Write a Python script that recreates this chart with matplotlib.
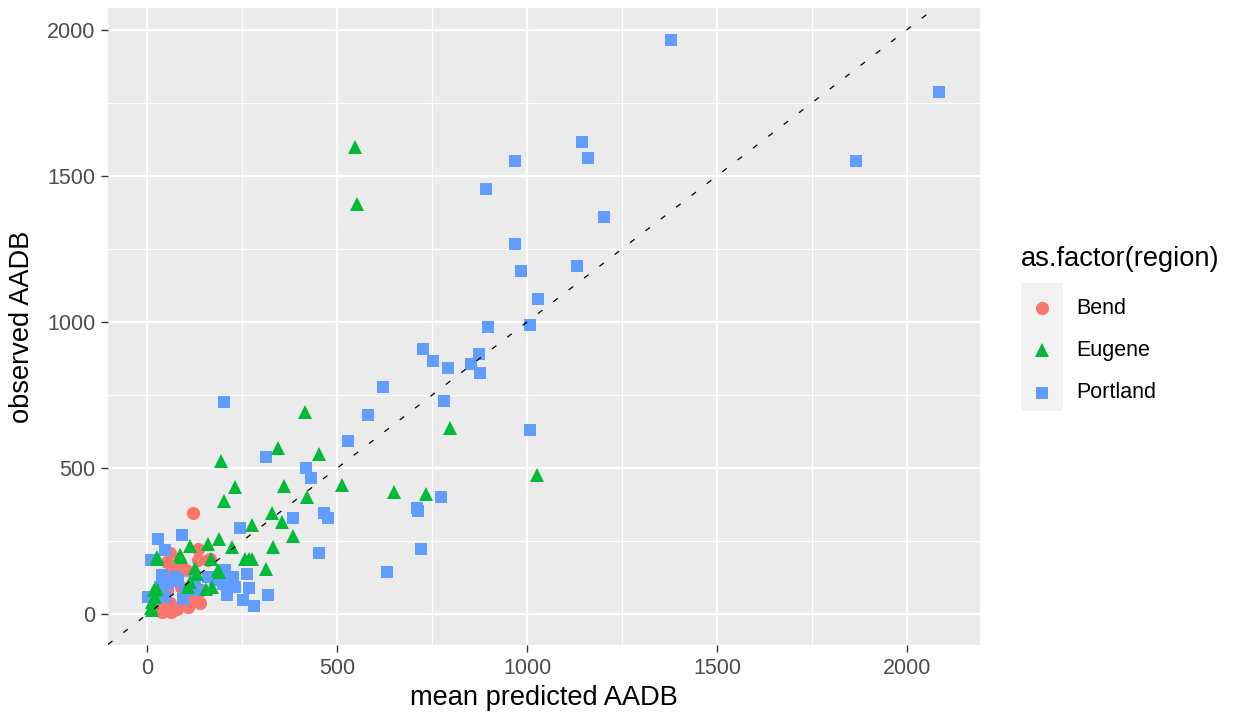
import numpy as np
import matplotlib.pyplot as plt
from matplotlib.ticker import MultipleLocator

plt.rcParams['font.family'] = ['Liberation Sans', 'DejaVu Sans']

regions = ['Bend', 'Eugene', 'Portland']
colors = {'Bend': '#F8766D', 'Eugene': '#00BA38', 'Portland': '#619CFF'}
markers = {'Bend': 'o', 'Eugene': '^', 'Portland': 's'}
msizes = {'Bend': 9.5, 'Eugene': 10.0, 'Portland': 9.0}

# mean predicted vs observed AADB per count site
bend_pred = [121, 135, 166, 161, 73, 103, 68, 51, 29, 20, 38, 77, 108, 125, 143, 90,
             86, 51, 134, 64, 139, 131, 61, 65, 34, 78, 100, 60]
bend_obs = [345, 225, 190, 185, 151, 151, 116, 82, 48, 25, 8, 19, 25, 48, 82, 94,
            162, 179, 185, 8, 37, 71, 208, 139, 14, 19, 60, 40]

eugene_pred = [548, 553, 416, 344, 453, 194, 230, 359, 514, 201, 420, 328, 354, 276,
               383, 332, 223, 258, 275, 313, 189, 161, 113, 167, 126, 796, 1025, 651,
               734, 89, 27, 187, 112, 156, 27, 20, 11, 130, 108, 269, 17, 12, 12, 87,
               25, 188, 170]
eugene_obs = [1600, 1404, 691, 570, 550, 524, 436, 438, 444, 387, 402, 345, 316, 305,
              268, 230, 230, 190, 190, 156, 259, 240, 234, 190, 157, 636, 476, 419,
              413, 196, 196, 151, 111, 88, 88, 59, 20, 139, 94, 190, 82, 42, 14, 202,
              190, 145, 94]

portland_pred = [1379, 2085, 1866, 1144, 1160, 968, 891, 1203, 967, 983, 1131, 1030,
                 897, 1008, 725, 752, 793, 852, 874, 876, 620, 580, 780, 1008, 774,
                 710, 712, 721, 631, 201, 528, 313, 418, 431, 383, 466, 477, 245, 453,
                 318, 91, 264, 269, 253, 280, 29, 48, 11, 38, 73, 55, 82, 99, 125, 161,
                 178, 204, 213, 226, 200, 231, 209, 3, 46, 95, 130, 33]
portland_obs = [1963, 1785, 1549, 1614, 1560, 1549, 1454, 1358, 1266, 1176, 1193, 1079,
                982, 991, 907, 866, 843, 855, 890, 825, 776, 681, 729, 632, 400,
                365, 355, 224, 145, 727, 593, 539, 499, 465, 330, 347, 331, 296, 208,
                65, 270, 137, 91, 48, 27, 256, 219, 187, 134, 128, 105, 116, 82, 122, 128,
                116, 151, 116, 128, 105, 94, 65, 59, 59, 54, 82, 94]

data = {
    'Bend': (bend_pred, bend_obs),
    'Eugene': (eugene_pred, eugene_obs),
    'Portland': (portland_pred, portland_obs),
}

W, H = 1235, 719
fig = plt.figure(figsize=(W / 100, H / 100), dpi=100)
ax = fig.add_axes([108 / W, 1 - 645 / H, (980 - 108) / W, (645 - 8) / H])
ax.set_facecolor('#EBEBEB')
for s in ax.spines.values():
    s.set_visible(False)

ax.set_xlim(-103, 2192)
ax.set_ylim(-105, 2074)
ax.xaxis.set_major_locator(MultipleLocator(500))
ax.yaxis.set_major_locator(MultipleLocator(500))
ax.xaxis.set_minor_locator(MultipleLocator(250))
ax.yaxis.set_minor_locator(MultipleLocator(250))
ax.grid(which='major', color='white', lw=1.6)
ax.grid(which='minor', color='white', lw=0.8)
ax.tick_params(which='minor', length=0)
ax.tick_params(which='major', length=5, width=1, color='#333333',
               labelcolor='#4D4D4D', labelsize=15.5, pad=4)
ax.set_axisbelow(True)

# draw order: Bend, Portland, Eugene
for reg in ['Bend', 'Portland', 'Eugene']:
    xs, ys = data[reg]
    ax.plot(xs, ys, ls='none', marker=markers[reg], ms=msizes[reg],
            mfc=colors[reg], mec=colors[reg], mew=0, zorder=3)

ax.axline((0, 0), slope=1, color='black', lw=0.9, ls=(0, (4.5, 11)), zorder=4)

ax.set_xlabel('mean predicted AADB', fontsize=19.6, labelpad=5)
fig.text(22 / W, 1 - 326.5 / H, 'observed AADB', rotation=90, fontsize=19.6,
         ha='center', va='center')

# legend
fig.text(1021 / W, 1 - 259 / H, 'as.factor(region)', fontsize=19.6,
         ha='left', va='center')
lax = fig.add_axes([1021 / W, 1 - 411 / H, 42 / W, 128 / H])
lax.set_facecolor('#F2F2F2')
lax.set_xlim(0, 1)
lax.set_ylim(len(regions), 0)
lax.set_xticks([])
lax.set_yticks([])
for s in lax.spines.values():
    s.set_visible(False)
for i, reg in enumerate(regions):
    lax.plot([0.5], [i + 0.58], ls='none', marker=markers[reg], ms=msizes[reg],
             mfc=colors[reg], mec=colors[reg], mew=0)
    fig.text(1076 / W, 1 - (308 + 42.5 * i) / H, reg, fontsize=15.5,
             ha='left', va='center')

fig.savefig('out.png', dpi=100)
